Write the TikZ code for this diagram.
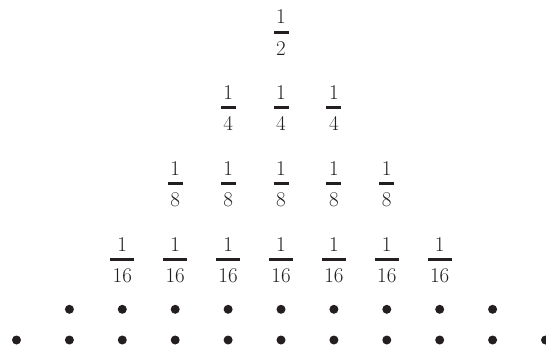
\documentclass[tikz,border=0pt]{standalone}
\definecolor{ink}{RGB}{35,31,32}
\newcommand\digitfont{\fontsize{21}{21}\selectfont}
\tikzset{
  num/.style={font=\digitfont, anchor=base, inner sep=0pt, text=ink},
  fbar/.style={fill=ink, draw=none, inner sep=0pt, minimum height=2.6pt, minimum width=#1},
  dotmark/.style={circle, fill=ink, draw=none, inner sep=0pt, minimum size=9pt}
}
\begin{document}
\begin{tikzpicture}[x=1pt,y=1pt]
  \useasboundingbox (0,0) rectangle (546,349);
  % rows of unit fractions 1/2, 1/4, 1/8, 1/16
  \foreach \r/\y in {0/316.7,1/241.7,2/165.7,3/89.7}{
    \pgfmathtruncatemacro\den{2^(\r+1)}
    \pgfmathtruncatemacro\last{2*\r}
    \pgfmathsetmacro\barw{ifthenelse(\den>9,24,15)}
    \foreach \k in {0,...,\last}{
      \pgfmathsetmacro\xx{281+52.9*(\k-\r)}
      \node[fbar=\barw pt] (f\r\k) at (\xx,\y) {};
      \node[num] (f\r\k n) at ([yshift=8.3pt]f\r\k.center) {1};
      \node[num] (f\r\k d) at ([yshift=-22.9pt]f\r\k.center) {\den};
    }
  }
  % two rows of dots
  \foreach \k in {0,...,8}{
    \node[dotmark] (a\k) at ({281+52.9*(\k-4)},39.7) {};
  }
  \foreach \k in {0,...,10}{
    \node[dotmark] (b\k) at ({281+52.9*(\k-5)},9) {};
  }
\end{tikzpicture}
\end{document}
